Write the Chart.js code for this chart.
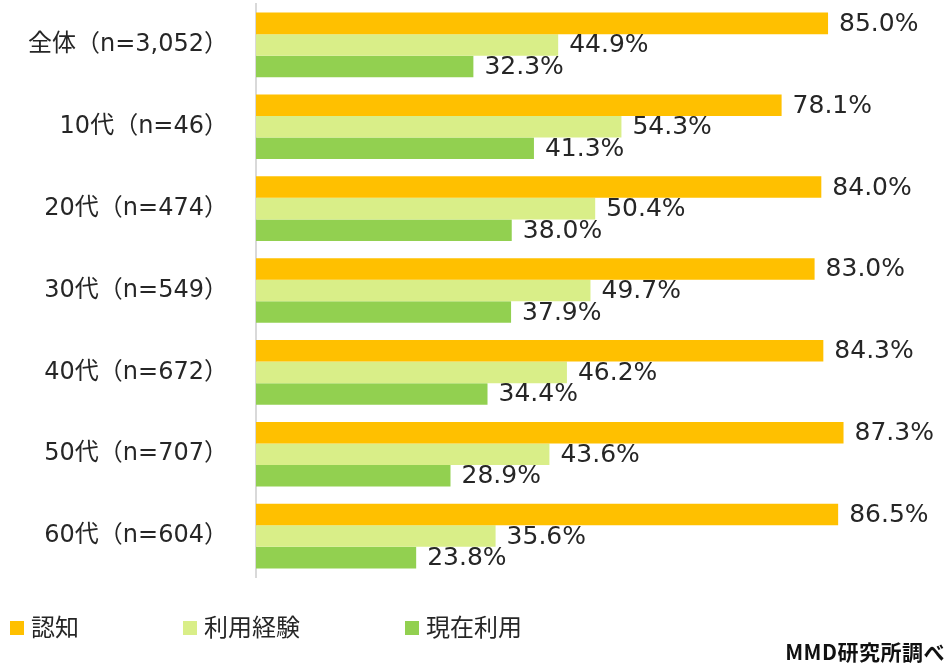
<!DOCTYPE html>
<html>
<head>
<meta charset="utf-8">
<script src="https://cdn.jsdelivr.net/npm/chart.js@4"></script>
<style>
  body { margin: 0; background: #fff; font-family: "DejaVu Sans", "Noto Sans CJK JP", sans-serif; }
  #wrap { position: relative; width: 949px; height: 664px; }
  .leg { position: absolute; top: 611px; font-size: 24px; line-height: 30px; color: #262626; font-family: "Noto Sans CJK JP", sans-serif; }
  .leg span { display: inline-block; width: 14px; height: 14px; margin-right: 7px; vertical-align: 1px; }
  #src { position: absolute; right: 4px; top: 637px; font-size: 21px; line-height: 28px; font-weight: bold; color: #111; font-family: "Noto Sans CJK JP", sans-serif; letter-spacing: 0.5px; }
</style>
</head>
<body>
<div id="wrap">
  <canvas id="bar-chart" width="949" height="664"></canvas>
  <div class="leg" style="left:10px"><span style="background:#FFC000"></span>認知</div>
  <div class="leg" style="left:183px"><span style="background:#D9EE88"></span>利用経験</div>
  <div class="leg" style="left:405px"><span style="background:#92D050"></span>現在利用</div>
  <div id="src">MMD研究所調べ</div>
</div>
<script>
let categories=["全体（n=3,052）","10代（n=46）","20代（n=474）","30代（n=549）","40代（n=672）","50代（n=707）","60代（n=604）"];
let ninchi=[85.0,78.1,84.0,83.0,84.3,87.3,86.5];
let keiken=[44.9,54.3,50.4,49.7,46.2,43.6,35.6];
let genzai=[32.3,41.3,38.0,37.9,34.4,28.9,23.8];

// value labels to the right of each bar
let valueLabels={
  id:"valueLabels",
  afterDatasetsDraw(chart){
    let ctx=chart.ctx;
    ctx.save();
    ctx.font='25px "DejaVu Sans", sans-serif';
    ctx.fillStyle="#262626";
    ctx.textBaseline="middle";
    ctx.textAlign="left";
    chart.data.datasets.forEach(function(ds,i){
      chart.getDatasetMeta(i).data.forEach(function(bar,j){
        ctx.fillText(ds.data[j].toFixed(1)+"%",bar.x+11,bar.y+1);
      });
    });
    ctx.restore();
  }
};

new Chart(document.getElementById("bar-chart"),{
  type:'bar',
  data:{
    labels:categories,
    datasets:[
      {label:"認知",data:ninchi,backgroundColor:"#FFC000"},
      {label:"利用経験",data:keiken,backgroundColor:"#D9EE88"},
      {label:"現在利用",data:genzai,backgroundColor:"#92D050"}
    ]
  },
  options:{
    indexAxis:'y',
    responsive:false,
    animation:false,
    layout:{padding:{left:0,right:20,top:4,bottom:87}},
    datasets:{bar:{categoryPercentage:0.79,barPercentage:1.0}},
    plugins:{legend:{display:false},tooltip:{enabled:false}},
    scales:{
      x:{
        min:0,max:100,
        display:false,
        grid:{display:false}
      },
      y:{
        grid:{display:false,drawTicks:false},
        border:{display:true,color:"#d9d9d9",width:2},
        ticks:{
          padding:28,
          color:"#262626",
          font:{family:'"DejaVu Sans", "Noto Sans CJK JP", sans-serif',size:24}
        },
        afterFit(scale){
          scale.width=256;
          scale.paddingTop=0;
          scale.paddingBottom=0;
        }
      }
    }
  },
  plugins:[valueLabels]
});
</script>
</body>
</html>
